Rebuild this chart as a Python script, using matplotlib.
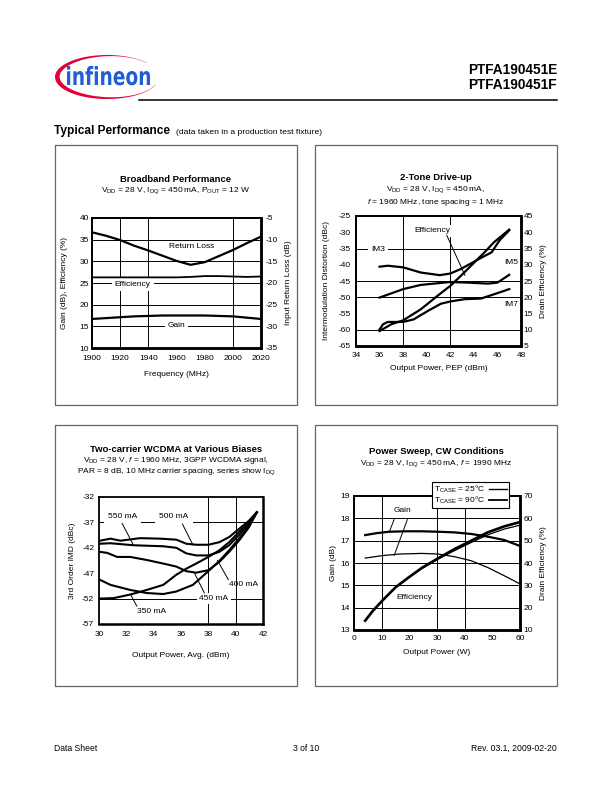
import numpy as np
import matplotlib
matplotlib.use("Agg")
import matplotlib.pyplot as plt
from matplotlib.patches import Rectangle, Polygon, PathPatch
from matplotlib.textpath import TextPath
from matplotlib.font_manager import FontProperties
from matplotlib.transforms import Affine2D
from matplotlib.lines import Line2D

# ---------------- data ----------------
# Broadband Performance
bb_freq = [1900, 1910, 1920, 1930, 1940, 1950, 1960, 1970, 1980, 1990, 2000, 2010, 2020]
bb_return_loss = [-8.3, -9.1, -10.1, -11.4, -12.5, -13.7, -14.9, -15.8, -15.2, -13.8, -12.4, -10.8, -9.3]
bb_efficiency = [26.3, 26.3, 26.3, 26.3, 26.3, 26.3, 26.3, 26.4, 26.6, 26.6, 26.5, 26.4, 26.5]
bb_gain = [16.7, 16.9, 17.1, 17.3, 17.4, 17.5, 17.5, 17.5, 17.5, 17.4, 17.3, 17.0, 16.7]

# 2-Tone Drive-up
tt_im3_pout = [36.0, 36.7, 38.0, 39.5, 41.1, 42.0, 42.9, 43.9, 44.7, 45.5, 46.2, 47.0]
tt_im3 = [-40.6, -40.3, -40.8, -42.4, -43.2, -42.7, -41.3, -39.3, -37.7, -36.2, -32.4, -29.4]
tt_im5_pout = [36.0, 38.0, 39.5, 42.0, 43.5, 45.2, 46.0, 47.0]
tt_im5 = [-50.1, -47.5, -46.2, -45.3, -45.5, -45.8, -45.5, -43.1]
tt_im7_pout = [36.0, 36.3, 36.7, 38.0, 38.9, 40.1, 41.2, 42.0, 43.2, 44.6, 45.7, 47.0]
tt_im7 = [-59.9, -58.3, -57.6, -57.6, -56.8, -54.2, -52.0, -51.3, -50.6, -50.4, -49.1, -47.5]
tt_eff_pout = [36.0, 37.0, 38.0, 39.5, 40.9, 42.0, 42.9, 43.9, 44.9, 45.7, 47.0]
tt_eff = [9.6, 11.7, 12.9, 16.3, 20.4, 23.5, 26.6, 30.2, 33.8, 36.9, 40.8]

# Two-carrier WCDMA at various biases
wc_500_pout = [30.07, 30.84, 31.57, 33.01, 34.46, 35.66, 36.39, 37.11, 38.0, 38.8, 39.52, 40.24, 40.96, 41.55]
wc_500 = [-40.6, -40.2, -40.6, -40.1, -40.2, -40.4, -41.2, -41.4, -41.4, -40.9, -39.9, -38.3, -36.7, -35.0]
wc_550_pout = [30.07, 30.84, 32.53, 34.7, 35.66, 36.39, 37.11, 38.0, 38.8, 39.52, 40.24, 40.96, 41.55]
wc_550 = [-41.2, -41.1, -41.5, -41.7, -42.0, -43.1, -43.5, -43.5, -42.8, -41.5, -39.5, -37.3, -35.0]
wc_450_pout = [30.07, 30.6, 31.33, 32.29, 33.49, 34.7, 35.66, 36.39, 37.11, 38.0, 38.8, 39.52, 40.24, 40.96, 41.55]
wc_450 = [-42.8, -43.0, -43.8, -43.8, -44.4, -45.1, -45.7, -46.6, -46.9, -46.4, -44.8, -42.8, -40.6, -38.0, -35.0]
wc_400_pout = [30.07, 30.84, 32.29, 33.49, 34.7, 35.66, 36.87, 38.0, 38.8, 39.52, 40.24, 40.96, 41.55]
wc_400 = [-48.3, -49.3, -50.3, -50.9, -51.1, -50.6, -49.3, -46.6, -44.6, -42.5, -40.2, -37.8, -35.0]
wc_350_pout = [30.07, 31.08, 32.29, 33.49, 34.7, 35.66, 36.39, 37.11, 38.0, 38.8, 39.52, 40.24, 40.96, 41.55]
wc_350 = [-52.0, -51.9, -51.2, -50.3, -49.3, -47.3, -46.1, -45.1, -43.8, -42.5, -40.9, -38.9, -37.0, -35.0]

# Power sweep, CW
ps_gain_pout = [4.05, 7.86, 12.6, 18.6, 24.5, 30.5, 36.4, 42.4, 48.3, 54.3, 59.6]
ps_gain_25 = [17.25, 17.33, 17.40, 17.42, 17.42, 17.40, 17.37, 17.30, 17.18, 17.03, 16.78]
ps_gain90_pout = [4.05, 10.2, 16.2, 24.5, 30.5, 36.4, 42.4, 48.3, 54.3, 59.6]
ps_gain_90 = [16.22, 16.33, 16.40, 16.43, 16.40, 16.28, 16.10, 15.80, 15.43, 15.09]
ps_eff_pout = [4.05, 6.7, 10.2, 15.0, 19.8, 24.5, 30.5, 36.4, 42.4, 48.3, 54.3, 59.6]
ps_eff_25 = [14.2, 18.4, 23.1, 29.1, 33.6, 37.8, 42.2, 46.3, 50.0, 53.7, 56.4, 58.2]
ps_eff_90 = [14.2, 18.4, 23.1, 29.0, 33.4, 37.5, 41.8, 45.6, 49.2, 52.6, 55.2, 56.8]

# ---------------- style ----------------
plt.rcParams['font.family'] = ['Liberation Sans', 'DejaVu Sans']
plt.rcParams['mathtext.fontset'] = 'custom'
plt.rcParams['mathtext.rm'] = 'Liberation Sans'
plt.rcParams['mathtext.it'] = 'Liberation Sans:italic'
plt.rcParams['mathtext.bf'] = 'Liberation Sans:bold'
plt.rcParams['axes.unicode_minus'] = False

W, H = 612, 792
FS = 6.0
TFS = 6.8
GRID_LW = 0.7
CURVE_LW = 1.6
BLUE = '#1f5fd6'
RED = '#e2003a'

fig = plt.figure(figsize=(6.12, 7.92), dpi=100)


def rect(x0, y0, x1, y1):
    return [x0 / W, 1 - y1 / H, (x1 - x0) / W, (y1 - y0) / H]


# background overlay in page pixel coordinates
bg = fig.add_axes([0, 0, 1, 1])
bg.set_xlim(0, W)
bg.set_ylim(H, 0)
bg.axis('off')

# --- logo ---
tp = TextPath((0, 0), 'infineon', size=100,
              prop=FontProperties(family='DejaVu Sans', weight='bold'))
ext = tp.get_extents()
sx = 83 / ext.width
sy = 19.0 / ext.y1
logo_path = Affine2D().translate(-ext.x0, 0).scale(sx, -sy).translate(67, 85).transform_path(tp)
bg.add_patch(PathPatch(logo_path, fc=BLUE, ec='none'))
th = np.radians(np.linspace(40, 339, 240))
u = (np.degrees(th) - 40) / 299.0
t = 0.4 + 4.3 * np.sin(np.pi * u) ** 2
cx, cy, rx, ry = 107, 77, 52, 22
outer = np.column_stack([cx + rx * np.cos(th), cy - ry * np.sin(th)])
inner = np.column_stack([cx + (rx - t) * np.cos(th), cy - (ry - t * 0.8) * np.sin(th)])
bg.add_patch(Polygon(np.vstack([outer, inner[::-1]]), closed=True, fc=RED, ec='none'))

# header
bg.plot([139, 557], [100, 100], color='k', lw=1.1)
bg.text(557, 74, 'PTFA190451E', ha='right', va='baseline', fontsize=9.8, fontweight='bold')
bg.text(557, 89, 'PTFA190451F', ha='right', va='baseline', fontsize=9.8, fontweight='bold')
bg.text(54, 134, 'Typical Performance', ha='left', va='baseline', fontsize=8.6, fontweight='bold')
bg.text(175.5, 134, '(data taken in a production test fixture)', ha='left', va='baseline', fontsize=6.1)

# footer
bg.text(54, 751, 'Data Sheet', ha='left', va='baseline', fontsize=6.2)
bg.text(306, 751, '3 of 10', ha='center', va='baseline', fontsize=6.2)
bg.text(557, 751, 'Rev. 03.1, 2009-02-20', ha='right', va='baseline', fontsize=6.2)

# panel boxes
for (x0, y0, x1, y1) in [(55, 145, 297, 405), (315, 145, 557, 405),
                         (55, 425, 297, 686), (315, 425, 557, 686)]:
    bg.add_patch(Rectangle((x0, y0), x1 - x0, y1 - y0, fill=False, ec='#666666', lw=0.9))

# titles
bg.text(176, 179, 'Broadband Performance', ha='center', va='center', fontsize=TFS, fontweight='bold')
bg.text(176, 191, r'V$_\mathregular{DD}$ = 28 V, I$_\mathregular{DQ}$ = 450 mA, P$_\mathregular{OUT}$ = 12 W',
        ha='center', va='center', fontsize=FS)
bg.text(436, 178, '2-Tone Drive-up', ha='center', va='center', fontsize=TFS, fontweight='bold')
bg.text(436, 190, r'V$_\mathregular{DD}$ = 28 V, I$_\mathregular{DQ}$ = 450 mA,', ha='center', va='center', fontsize=FS)
bg.text(436, 202, r'$\mathit{f}$ = 1960 MHz, tone spacing = 1 MHz', ha='center', va='center', fontsize=FS)
bg.text(176, 450, 'Two-carrier WCDMA at Various Biases', ha='center', va='center', fontsize=TFS, fontweight='bold')
bg.text(176, 461, r'V$_\mathregular{DD}$ = 28 V, $\mathit{f}$ = 1960 MHz, 3GPP WCDMA signal,',
        ha='center', va='center', fontsize=FS)
bg.text(176, 472, r'PAR = 8 dB, 10 MHz carrier spacing, series show I$_\mathregular{DQ}$',
        ha='center', va='center', fontsize=FS)
bg.text(436, 451, 'Power Sweep, CW Conditions', ha='center', va='center', fontsize=TFS, fontweight='bold')
bg.text(436, 464, r'V$_\mathregular{DD}$ = 28 V, I$_\mathregular{DQ}$ = 450 mA, $\mathit{f}$ = 1990 MHz',
        ha='center', va='center', fontsize=FS)


def style(ax, xlim, ylim, xticks, yticks, xpad=4.5, ypad=2.5):
    ax.set_xlim(*xlim)
    ax.set_ylim(*ylim)
    ax.set_xticks(xticks)
    ax.set_yticks(yticks)
    ax.tick_params(axis='x', length=0, labelsize=FS, pad=xpad)
    ax.tick_params(axis='y', length=0, labelsize=FS, pad=ypad)
    for s in ax.spines.values():
        s.set_linewidth(1.3)
    ax.spines['bottom'].set_linewidth(1.8)
    ax.spines['right'].set_linewidth(1.8)
    ax.set_facecolor('none')


def twin(ax, ylim, yticks, ypad=2.5):
    a2 = ax.twinx()
    a2.set_ylim(*ylim)
    a2.set_yticks(yticks)
    a2.tick_params(axis='y', length=0, labelsize=FS, pad=ypad)
    for s in a2.spines.values():
        s.set_linewidth(1.3)
    a2.spines['bottom'].set_linewidth(1.8)
    a2.spines['right'].set_linewidth(1.8)
    return a2


def labels(ax, xlabel, xl_y, ylabel, yl_x, ax2=None, ylabel2=None, yl2_x=None):
    ax.set_xlabel(xlabel, fontsize=FS)
    ax.xaxis.set_label_coords(0.5, xl_y)
    ax.xaxis.label.set_verticalalignment('center')
    ax.set_ylabel(ylabel, fontsize=FS)
    ax.yaxis.set_label_coords(yl_x, 0.5)
    ax.yaxis.label.set_verticalalignment('center')
    if ax2 is not None:
        ax2.set_ylabel(ylabel2, fontsize=FS)
        ax2.yaxis.set_label_coords(yl2_x, 0.5)
        ax2.yaxis.label.set_verticalalignment('center')


def grid(ax, xs, ys):
    for v in xs:
        ax.axvline(v, color='k', lw=GRID_LW, zorder=1)
    for v in ys:
        ax.axhline(v, color='k', lw=GRID_LW, zorder=1)


BOX = dict(fc='white', ec='none', pad=1.5)
LEAD = dict(arrowstyle='-', lw=0.7, color='k', shrinkA=0, shrinkB=0)

# ---------------- chart 1: Broadband ----------------
ax1 = fig.add_axes(rect(92, 218, 261, 348))
style(ax1, (1900, 2020), (10, 40), range(1900, 2021, 20), range(10, 41, 5), xpad=5, ypad=2)
grid(ax1, [1920, 1940, 2000], [15, 20, 25, 30, 35])
ax1.plot(bb_freq, bb_gain, color='k', lw=CURVE_LW, zorder=4)
ax1.plot(bb_freq, bb_efficiency, color='k', lw=1.3, zorder=4)
ax1b = twin(ax1, (-35, -5), range(-35, -4, 5), ypad=3)
ax1b.plot(bb_freq, bb_return_loss, color='k', lw=CURVE_LW, zorder=4)
ax1.text(1971, 33.5, 'Return Loss', ha='center', va='center', fontsize=FS, bbox=BOX, zorder=3)
ax1.text(1929, 24.6, 'Efficiency', ha='center', va='center', fontsize=FS, bbox=dict(fc='white', ec='none', pad=2.2), zorder=3)
ax1.text(1960, 15.1, 'Gain', ha='center', va='center', fontsize=FS, bbox=dict(fc='white', ec='none', pad=2.2), zorder=3)
labels(ax1, 'Frequency (MHz)', -0.2, 'Gain (dB), Efficiency (%)', -0.165,
       ax1b, 'Input Return Loss (dB)', 1.16)

# ---------------- chart 2: 2-Tone ----------------
ax2 = fig.add_axes(rect(356, 216, 521, 346))
style(ax2, (34, 48), (-65, -25), range(34, 49, 2), range(-65, -24, 5), xpad=4.5, ypad=3.5)
grid(ax2, [38, 42], [-35, -45, -50, -60])
ax2.plot(tt_im3_pout, tt_im3, color='k', lw=CURVE_LW, zorder=4)
ax2.plot(tt_im5_pout, tt_im5, color='k', lw=CURVE_LW, zorder=4)
ax2.plot(tt_im7_pout, tt_im7, color='k', lw=CURVE_LW, zorder=4)
ax2b = twin(ax2, (5, 45), range(5, 46, 5), ypad=2)
ax2b.plot(tt_eff_pout, tt_eff, color='k', lw=CURVE_LW, zorder=4)
ax2.text(35.9, -35.2, 'IM3', ha='center', va='center', fontsize=FS, bbox=dict(fc='white', ec='none', pad=2.2), zorder=3)
ax2.text(47.2, -39.3, 'IM5', ha='center', va='center', fontsize=FS, zorder=3)
ax2.text(47.2, -52.3, 'IM7', ha='center', va='center', fontsize=FS, zorder=3)
ax2.text(40.45, -29.6, 'Efficiency', ha='center', va='center', fontsize=FS, bbox=BOX, zorder=3)
ax2.annotate('', xy=(43.25, -43.3), xytext=(41.7, -30.9), arrowprops=LEAD, zorder=3)
labels(ax2, 'Output Power, PEP (dBm)', -0.175, 'Intermodulation Distortion (dBc)', -0.18,
       ax2b, 'Drain Efficiency (%)', 1.135)

# ---------------- chart 3: WCDMA ----------------
ax3 = fig.add_axes(rect(99, 497, 263, 624))
style(ax3, (30, 42), (-57, -32), range(30, 43, 2), range(-57, -31, 5), xpad=5, ypad=3.5)
grid(ax3, [38, 40], [-37, -52])
for xs, ys in [(wc_500_pout, wc_500), (wc_550_pout, wc_550), (wc_450_pout, wc_450),
               (wc_400_pout, wc_400), (wc_350_pout, wc_350)]:
    ax3.plot(xs, ys, color='k', lw=CURVE_LW - 0.1, zorder=4)
LBOX = dict(fc='white', ec='none', pad=3)
ax3.text(31.73, -35.8, '550 mA', ha='center', va='center', fontsize=FS, bbox=LBOX, zorder=3)
ax3.text(35.47, -35.8, '500 mA', ha='center', va='center', fontsize=FS, bbox=LBOX, zorder=3)
ax3.text(40.6, -49.3, '400 mA', ha='center', va='center', fontsize=FS, zorder=3)
ax3.text(38.41, -52.0, '450 mA', ha='center', va='center', fontsize=FS, bbox=dict(fc='white', ec='none', pad=1.5), zorder=3)
ax3.text(33.86, -54.6, '350 mA', ha='center', va='center', fontsize=FS, zorder=3)
ax3.annotate('', xy=(32.53, -41.5), xytext=(31.69, -37.2), arrowprops=LEAD, zorder=3)
ax3.annotate('', xy=(36.87, -41.4), xytext=(36.1, -37.3), arrowprops=LEAD, zorder=3)
ax3.annotate('', xy=(38.67, -44.5), xytext=(39.47, -48.3), arrowprops=LEAD, zorder=3)
ax3.annotate('', xy=(36.99, -47.0), xytext=(37.71, -50.9), arrowprops=LEAD, zorder=3)
ax3.annotate('', xy=(32.29, -51.1), xytext=(32.77, -53.5), arrowprops=LEAD, zorder=3)
labels(ax3, 'Output Power, Avg. (dBm)', -0.25, '3rd Order IMD (dBc)', -0.16)

# ---------------- chart 4: Power sweep ----------------
ax4 = fig.add_axes(rect(354, 496, 520, 630))
style(ax4, (0, 60), (13, 19), range(0, 61, 10), range(13, 20, 1), xpad=3.5, ypad=3)
grid(ax4, [10, 30, 40], [14, 15, 16, 17, 18])
ax4.plot(ps_gain_pout, ps_gain_25, color='k', lw=1.6, zorder=4)
ax4.plot(ps_gain90_pout, ps_gain_90, color='k', lw=0.9, zorder=4)
ax4b = twin(ax4, (10, 70), range(10, 71, 10), ypad=2.5)
ax4b.plot(ps_eff_pout, ps_eff_25, color='k', lw=1.9, zorder=4)
ax4b.plot(ps_eff_pout, ps_eff_90, color='k', lw=0.9, zorder=4)
ax4.text(17.4, 18.37, 'Gain', ha='center', va='center', fontsize=FS, zorder=3)
ax4.annotate('', xy=(12.7, 17.37), xytext=(14.5, 17.95), arrowprops=LEAD, zorder=3)
ax4.annotate('', xy=(14.5, 16.33), xytext=(19.3, 17.95), arrowprops=LEAD, zorder=3)
ax4.text(21.9, 14.46, 'Efficiency', ha='center', va='center', fontsize=FS, zorder=3)
handles = [Line2D([], [], color='k', lw=1.0), Line2D([], [], color='k', lw=1.3)]
leg = ax4b.legend(handles, [r'T$_\mathregular{CASE}$ = 25°C', r'T$_\mathregular{CASE}$ = 90°C'],
                  loc='upper left', bbox_to_anchor=(432 / W, 1 - 482 / H), bbox_transform=fig.transFigure,
                  fontsize=FS, markerfirst=False, fancybox=False, framealpha=1, edgecolor='k',
                  borderpad=0.2, handlelength=2.2, handletextpad=0.5, labelspacing=0.05, borderaxespad=0)
leg.get_frame().set_linewidth(0.8)
leg.set_zorder(10)
labels(ax4, 'Output Power (W)', -0.165, 'Gain (dB)', -0.125,
       ax4b, 'Drain Efficiency (%)', 1.14)

fig.savefig('out.png', dpi=100)
